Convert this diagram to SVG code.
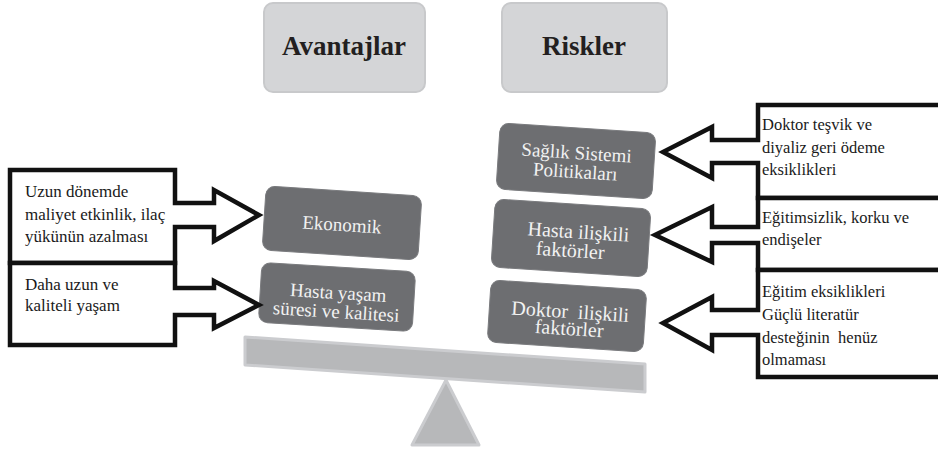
<svg xmlns="http://www.w3.org/2000/svg" width="938" height="452" viewBox="0 0 938 452">
<style>
.hdr{fill:#d4d5d7;stroke:#c8c9cb;stroke-width:2}
.sf{font-family:'Liberation Serif','Times New Roman',Times,Tinos,'Nimbus Roman','Noto Serif','DejaVu Serif',FreeSerif,serif}
.hdrt{font-weight:bold;font-size:27px;fill:#231f20;text-anchor:middle}
.dark{fill:#6d6e71;stroke:#7a7b7e;stroke-width:1}
.dt{font-size:19px;fill:#f2f2f2;text-anchor:middle}
.call{fill:#ffffff;stroke:#111111;stroke-width:4.5;stroke-linejoin:miter}
.ct{font-size:17px;fill:#1a1a1a}
.ctr{font-size:16.5px;fill:#1a1a1a}
.pre{white-space:pre}
.scale{fill:#b7b8ba;stroke:#cbcccf;stroke-width:3;stroke-linejoin:round}
</style>
<rect width="938" height="452" fill="#ffffff"/>

<g id="scale">
  <polygon class="scale" points="446,380 412,445 479,445"/>
  <polygon class="scale" points="245,337 645,364 645,392 245,365"/>
</g>

<g class="sf" font-family="Liberation Serif, Times New Roman, Times, serif">
<g id="avantajlar">
  <rect class="hdr" x="264" y="3" width="161" height="89" rx="9"/>
  <text class="hdrt" x="344" y="55">Avantajlar</text>
</g>
<g id="riskler">
  <rect class="hdr" x="502" y="3" width="165" height="89" rx="9"/>
  <text class="hdrt" x="584" y="55">Riskler</text>
</g>

<g id="ekonomik" transform="translate(342,223) rotate(3.7)">
  <rect class="dark" x="-78" y="-32" width="156" height="64" rx="9"/>
  <text class="dt" x="0" y="8">Ekonomik</text>
</g>
<g id="hasta-yasam" transform="translate(337,297) rotate(3.5)">
  <rect class="dark" x="-77" y="-30" width="154" height="60" rx="9"/>
  <text class="dt" x="1" y="2">Hasta yaşam</text>
  <text class="dt" x="0" y="21">süresi ve kalitesi</text>
</g>

<g id="saglik-sistemi" transform="translate(576,161) rotate(3.7)">
  <rect class="dark" x="-78" y="-33" width="156" height="66" rx="9"/>
  <text class="dt" x="0" y="-2">Sağlık Sistemi</text>
  <text class="dt" x="0" y="17">Politikaları</text>
</g>
<g id="hasta-iliskili" transform="translate(571,238) rotate(3.7)">
  <rect class="dark" x="-78" y="-34" width="156" height="68" rx="9"/>
  <text class="dt" x="7" y="0" style="font-size:20px">Hasta ilişkili</text>
  <text class="dt" x="0" y="19" style="font-size:20px">faktörler</text>
</g>
<g id="doktor-iliskili" transform="translate(567,316) rotate(3.7)">
  <rect class="dark" x="-78" y="-31" width="156" height="62" rx="9"/>
  <text class="dt pre" x="3" y="2" style="font-size:20px" xml:space="preserve">Doktor  ilişkili</text>
  <text class="dt" x="3" y="19" style="font-size:20px">faktörler</text>
</g>

<g id="connectors">
  <g id="callout-l1">
    <path class="call" d="M10,170 H175 V203 H214 V190 L259,215 L214,241 V227 H175 V263 H10 Z"/>
    <text class="ct" x="25" y="197">Uzun dönemde</text>
    <text class="ct" x="25" y="220">maliyet etkinlik, ilaç</text>
    <text class="ct" x="25" y="242">yükünün azalması</text>
  </g>
  <g id="callout-l2">
    <path class="call" d="M10,263 H175 V288 H214 V281 L259,305 L214,328 V315 H175 V345 H10 Z"/>
    <text class="ct" x="25" y="290">Daha uzun ve</text>
    <text class="ct" x="25" y="311">kaliteli yaşam</text>
  </g>
  <g id="callout-r1">
    <path class="call" d="M945,105 H758 V140 H712 V127 L663,152 L712,178 V163 H758 V198 H945"/>
    <text class="ctr" x="762" y="130">Doktor teşvik ve</text>
    <text class="ctr" x="762" y="153">diyaliz geri ödeme</text>
    <text class="ctr" x="762" y="175">eksiklikleri</text>
  </g>
  <g id="callout-r2">
    <path class="call" d="M945,198 H758 V227 H712 V207 L655,235 L712,262 V243 H758 V270 H945"/>
    <text class="ctr" x="762" y="223">Eğitimsizlik, korku ve</text>
    <text class="ctr" x="762" y="245">endişeler</text>
  </g>
  <g id="callout-r3">
    <path class="call" d="M945,270 H758 V310 H712 V297 L663,323 L712,350 V335 H758 V377 H945"/>
    <text class="ctr" x="762" y="297">Eğitim eksiklikleri</text>
    <text class="ctr" x="762" y="320">Güçlü literatür</text>
    <text class="ctr pre" x="762" y="343" xml:space="preserve">desteğinin  henüz</text>
    <text class="ctr" x="762" y="365">olmaması</text>
  </g>
</g>
</g>
</svg>
